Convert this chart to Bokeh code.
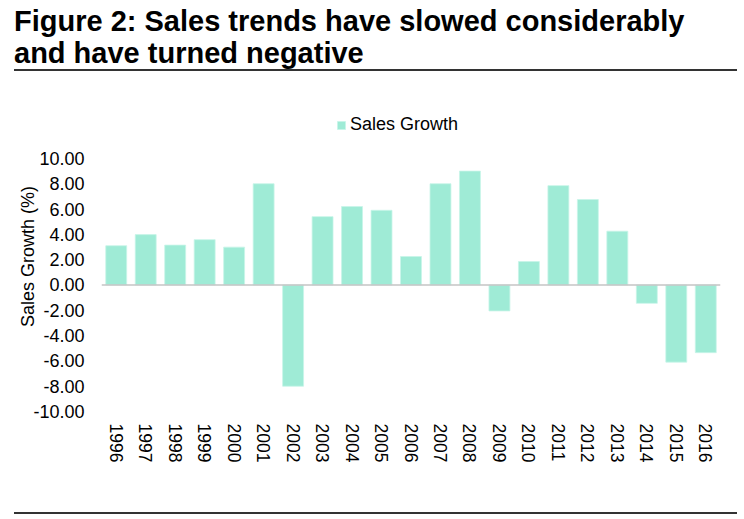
from bokeh.plotting import figure
from bokeh.models import (ColumnDataSource, FactorRange, Range1d, FixedTicker,
                          PrintfTickFormatter, Span, Legend, LegendItem, Div)
from bokeh.layouts import column
from bokeh.embed import file_html
from bokeh.resources import INLINE

# ---- data ----
years = ["1996", "1997", "1998", "1999", "2000", "2001", "2002", "2003", "2004",
         "2005", "2006", "2007", "2008", "2009", "2010", "2011", "2012", "2013",
         "2014", "2015", "2016"]
sales_growth = [3.10, 3.98, 3.15, 3.58, 2.99, 8.00, -8.00, 5.40, 6.20, 5.90, 2.25,
                8.00, 9.00, -2.05, 1.85, 7.85, 6.75, 4.25, -1.45, -6.10, -5.35]
y_ticks = [-10, -8, -6, -4, -2, 0, 2, 4, 6, 8, 10]
series_name = "Sales Growth"
title_lines = ["Figure 2: Sales trends have slowed considerably",
               "and have turned negative"]

FONT = "Liberation Sans"
BAR_COLOR = "#9FEBD6"

src = ColumnDataSource(dict(year=years, growth=sales_growth))

p = figure(x_range=FactorRange(*years, range_padding=0),
           y_range=Range1d(-10, 14.5),
           width=736, height=440,
           min_border_left=101, min_border_right=16,
           min_border_top=30, min_border_bottom=100,
           output_backend="svg", toolbar_location=None,
           outline_line_color=None, background_fill_color="white")

bars = p.vbar(x="year", top="growth", width=0.71, source=src,
              fill_color=BAR_COLOR, line_color="#C8F5E9", line_width=0.8)

zero = Span(location=0, dimension="width", line_color="#C4C4C4",
            line_width=1.5, level="overlay")
p.add_layout(zero)

p.xgrid.visible = False
p.ygrid.visible = False

# y axis
ya = p.yaxis[0]
ya.ticker = FixedTicker(ticks=y_ticks)
ya.formatter = PrintfTickFormatter(format="%.2f")
ya.axis_line_color = None
ya.major_tick_line_color = None
ya.minor_tick_line_color = None
ya.major_tick_out = 0
ya.major_label_standoff = 17
ya.major_label_text_font = FONT
ya.major_label_text_font_size = "18px"
ya.major_label_text_color = "#000000"
ya.axis_label = "Sales Growth (%)"
ya.axis_label_text_font = FONT
ya.axis_label_text_font_size = "18px"
ya.axis_label_text_font_style = "normal"
ya.axis_label_text_color = "#000000"
ya.axis_label_standoff = -8

# x axis
xa = p.xaxis[0]
xa.axis_line_color = None
xa.major_tick_line_color = None
xa.minor_tick_line_color = None
xa.major_tick_out = 0
xa.major_label_orientation = "vertical"
xa.major_label_standoff = 12
xa.major_label_text_font = FONT
xa.major_label_text_font_size = "17.5px"
xa.major_label_text_color = "#000000"

legend = Legend(items=[LegendItem(label=series_name, renderers=[bars])],
                location=(235, 276), orientation="horizontal",
                glyph_width=10, glyph_height=10, label_standoff=4,
                label_text_font=FONT, label_text_font_size="18px",
                label_text_color="#000000",
                border_line_color=None, background_fill_alpha=0,
                margin=0, padding=0, spacing=0)
p.add_layout(legend)

title_div = Div(text="<br>".join(title_lines), width=723,
                margin=(6, 0, 0, 14),
                styles={"font-family": "'Liberation Sans', Arial, sans-serif",
                        "font-size": "29px", "font-weight": "bold",
                        "line-height": "31.6px", "color": "#000000",
                        "border-bottom": "2px solid #333333",
                        "padding": "0px"})

bottom_rule = Div(text="", width=723, height=2, margin=(1, 0, 0, 14),
                  styles={"background-color": "#333333"})

layout = column(title_div, p, bottom_rule, spacing=0)

open("out.html", "w").write(file_html(layout, INLINE))
